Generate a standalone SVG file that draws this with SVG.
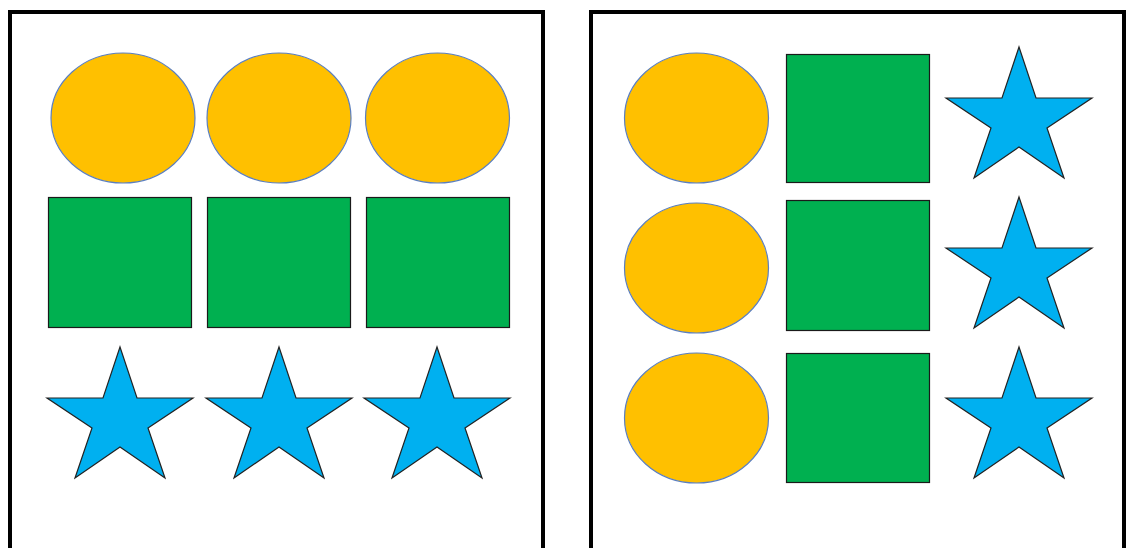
<svg xmlns="http://www.w3.org/2000/svg" xmlns:xlink="http://www.w3.org/1999/xlink" width="1126" height="548" viewBox="0 0 1126 548">
<style>
.frame{fill:none;stroke:#000;stroke-width:4}
.ell{fill:#FFC000;stroke:#5B7FC0;stroke-width:1.2}
.sq{fill:#00B050;stroke:#1a1a1a;stroke-width:1.2}
.star{fill:#00B0F0;stroke:#222;stroke-width:1.2;stroke-linejoin:miter}
</style>
<defs>
<polygon id="star" points="73,0 90,51 146,51 101,81 118,131 73,100 28,131 45,81 0,51 56,51"/>
</defs>
<rect width="1126" height="548" fill="#fff"/>
<g id="frame-left"><rect class="frame" x="10" y="12" width="533" height="560"/></g>
<g id="frame-right"><rect class="frame" x="591" y="12" width="533" height="560"/></g>
<g id="left-e1"><ellipse class="ell" cx="123" cy="118" rx="72" ry="65"/></g>
<g id="left-e2"><ellipse class="ell" cx="279" cy="118" rx="72" ry="65"/></g>
<g id="left-e3"><ellipse class="ell" cx="437.5" cy="118" rx="72" ry="65"/></g>
<g id="left-s1"><rect class="sq" x="48.5" y="197.5" width="143" height="130"/></g>
<g id="left-s2"><rect class="sq" x="207.5" y="197.5" width="143" height="130"/></g>
<g id="left-s3"><rect class="sq" x="366.5" y="197.5" width="143" height="130"/></g>
<g id="left-t1"><use href="#star" xlink:href="#star" class="star" transform="translate(47,347)"/></g>
<g id="left-t2"><use href="#star" xlink:href="#star" class="star" transform="translate(206,347)"/></g>
<g id="left-t3"><use href="#star" xlink:href="#star" class="star" transform="translate(364,347)"/></g>
<g id="right-e1"><ellipse class="ell" cx="696.5" cy="118" rx="72" ry="65"/></g>
<g id="right-e2"><ellipse class="ell" cx="696.5" cy="268" rx="72" ry="65"/></g>
<g id="right-e3"><ellipse class="ell" cx="696.5" cy="418" rx="72" ry="65"/></g>
<g id="right-s1"><rect class="sq" x="786.5" y="54.5" width="143" height="128"/></g>
<g id="right-s2"><rect class="sq" x="786.5" y="200.5" width="143" height="130"/></g>
<g id="right-s3"><rect class="sq" x="786.5" y="353.5" width="143" height="129"/></g>
<g id="right-t1"><use href="#star" xlink:href="#star" class="star" transform="translate(946,47)"/></g>
<g id="right-t2"><use href="#star" xlink:href="#star" class="star" transform="translate(946,197)"/></g>
<g id="right-t3"><use href="#star" xlink:href="#star" class="star" transform="translate(946,347)"/></g>
<g id="connectors"></g>
</svg>
